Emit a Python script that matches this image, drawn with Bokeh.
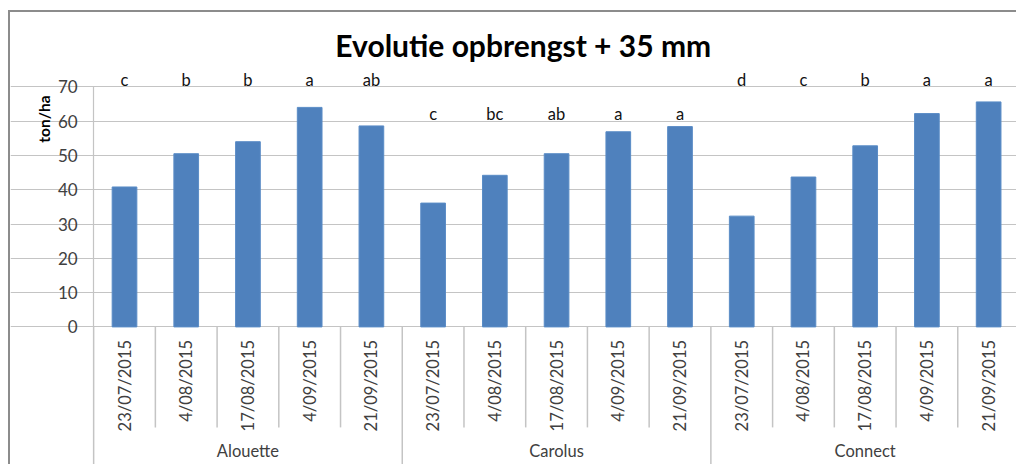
import math
from bokeh.plotting import figure
from bokeh.models import Range1d, FixedTicker, ColumnDataSource
from bokeh.embed import file_html
from bokeh.resources import INLINE
from bokeh.core.properties import value

# ---------------- data ----------------
title_text = "Evolutie opbrengst + 35 mm"
y_label = "ton/ha"
varieties = ["Alouette", "Carolus", "Connect"]
dates = ["23/07/2015", "4/08/2015", "17/08/2015", "4/09/2015", "21/09/2015"]
alouette = [40.8, 50.5, 54.0, 64.0, 58.6]
carolus = [36.1, 44.2, 50.5, 56.9, 58.4]
connect = [32.3, 43.7, 52.8, 62.2, 65.6]
letters_alouette = ["c", "b", "b", "a", "ab"]
letters_carolus = ["c", "bc", "ab", "a", "a"]
letters_connect = ["d", "c", "b", "a", "a"]
letter_level = [71.9, 62.2, 71.9]          # height of the significance letters per variety
y_ticks = [0, 10, 20, 30, 40, 50, 60, 70]

# ---------------- build ----------------
values = alouette + carolus + connect
letters = letters_alouette + letters_carolus + letters_connect
n_dates = len(dates)
n = len(values)
xc = [i + 0.5 for i in range(n)]                       # category centres
date_lab = [dates[i % n_dates] for i in range(n)]
letter_y = [letter_level[i // n_dates] for i in range(n)]

FONT = "Lato"
BLUE = "#4F81BD"
GRID = "#c4c4c4"
TXT = "#404040"

x_range = Range1d(-1.347, 14.984)
y_range = Range1d(-40.7, 91.67)

p = figure(width=1006, height=452, x_range=x_range, y_range=y_range,
           x_axis_location=None, toolbar_location=None, output_backend="svg",
           min_border_left=0, min_border_right=0, min_border_top=0, min_border_bottom=0)
p.styles = {"box-sizing": "content-box",
            "border-left": "2px solid #8c8c8c", "border-top": "2px solid #8c8c8c",
            "margin-left": "8px", "margin-top": "10px", "overflow": "hidden"}
p.outline_line_color = None
p.background_fill_color = "white"
p.border_fill_color = "white"
p.xgrid.visible = False

# y axis, drawn at the start of the first category
ya = p.yaxis[0]
ya.fixed_location = 0
ya.ticker = FixedTicker(ticks=y_ticks)
ya.bounds = (y_ticks[0], y_ticks[-1])
ya.axis_line_color = GRID
ya.axis_line_width = 1.2
ya.major_tick_line_color = GRID
ya.major_tick_out = 6
ya.major_tick_in = 0
ya.minor_tick_line_color = None
ya.major_label_text_font = FONT
ya.major_label_text_font_size = "17px"
ya.major_label_text_color = TXT
ya.major_label_standoff = 10
p.ygrid.ticker = FixedTicker(ticks=y_ticks)
p.ygrid.grid_line_color = GRID
p.ygrid.grid_line_width = 1.2

src = ColumnDataSource(dict(x=xc, top=values, letter=letters, ly=letter_y, date=date_lab))

p.vbar(x="x", top="top", bottom=0, width=0.4, source=src,
       fill_color=BLUE, line_color="#5a8cc6", line_width=1)

# significance letters
p.text(x="x", y="ly", text="letter", source=src, text_align="center",
       text_baseline="middle", text_font=value(FONT), text_font_size="16.5px",
       text_color="#111111")

# category box lines
sub_x, group_x = [], []
for i in range(n + 1):
    (group_x if i % n_dates == 0 else sub_x).append(i)
p.segment(x0=sub_x, y0=[0] * len(sub_x), x1=sub_x, y1=[-29.3] * len(sub_x),
          line_color=GRID, line_width=1.5)
p.segment(x0=group_x, y0=[0] * len(group_x), x1=group_x, y1=[-60] * len(group_x),
          line_color=GRID, line_width=1.5)

# date labels (rotated)
p.text(x="x", y=-3.8, text="date", source=src, angle=math.pi / 2,
       text_align="right", text_baseline="middle", text_font=value(FONT),
       text_font_size="16.5px", text_color=TXT)

# variety labels
group_centers = [(i + 0.5) * n_dates for i in range(len(varieties))]
p.text(x=group_centers, y=[-36.3] * len(varieties), text=varieties,
       text_align="center", text_baseline="middle", text_font=value(FONT),
       text_font_size="16.5px", text_color=TXT)

# title
p.text(x=[6.96], y=[82.3], text=[title_text], text_align="center",
       text_baseline="middle", text_font=value(FONT), text_font_style="bold",
       text_font_size="30px", text_color="#000000")
# y axis label
p.text(x=[-0.81], y=[60.6], text=[y_label], angle=math.pi / 2,
       text_align="center", text_baseline="middle", text_font=value(FONT),
       text_font_style="bold", text_font_size="15.5px", text_color="#000000")

open("out.html", "w").write(file_html(p, INLINE))
